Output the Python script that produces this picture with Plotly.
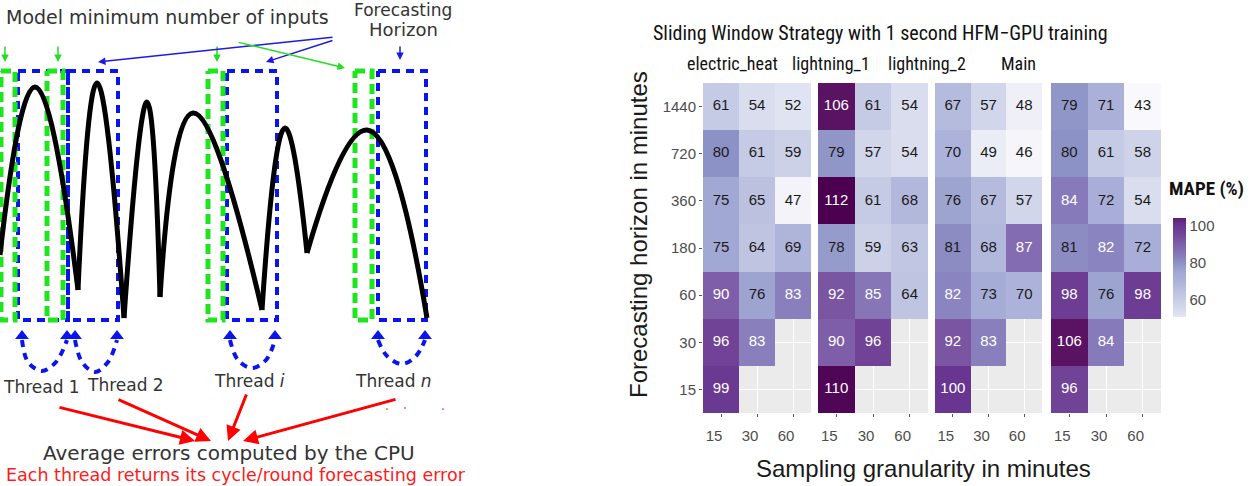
import plotly.graph_objects as go

# ---------------- heatmap data (rows: horizon bottom -> top; cols: granularity) ----------------
granularity = ["15", "30", "60"]
horizons = ["15", "30", "60", "180", "360", "720", "1440"]
facets = ["electric_heat", "lightning_1", "lightning_2", "Main"]

electric_heat = [[99, None, None], [96, 83, None], [90, 76, 83], [75, 64, 69],
                 [75, 65, 47], [80, 61, 59], [61, 54, 52]]
lightning_1 = [[110, None, None], [90, 96, None], [92, 85, 64], [78, 59, 63],
               [112, 61, 68], [79, 57, 54], [106, 61, 54]]
lightning_2 = [[100, None, None], [92, 83, None], [82, 73, 70], [81, 68, 87],
               [76, 67, 57], [70, 49, 46], [67, 57, 48]]
main_values = [[96, None, None], [106, 84, None], [98, 76, 98], [81, 82, 72],
               [84, 72, 54], [80, 61, 58], [79, 71, 43]]
panels = [electric_heat, lightning_1, lightning_2, main_values]
cbar_ticks = [60, 80, 100]

# ---------------- diagram data (pixel-like coordinates) ----------------
arch_x = [[0, 35, 78], [78, 97, 124], [124, 147, 160], [160, 193, 262], [262, 285, 307], [307, 367, 427]]
arch_y = [[255, 87, 290], [290, 83, 318], [318, 102, 297], [297, 113, 310], [310, 128, 253], [253, 130, 318]]
green_boxes = [(1, 15), (47, 63), (208, 223), (355, 372)]
blue_boxes = [(18, 68), (68, 118), (227, 277), (378, 426)]
box_top, box_bottom = 71, 320
loop_x = [[22, 28, 42, 56, 67], [75, 82, 95, 108, 117], [230, 238, 252, 266, 275], [378, 387, 402, 416, 425]]
loop_y = [[340, 362, 371, 362, 340], [340, 362, 372, 362, 340], [340, 360, 368, 360, 340], [340, 356, 364, 356, 340]]
thread_labels = ["Thread 1", "Thread 2", "Thread <i>i</i>", "Thread <i>n</i>"]
thread_x = [41, 125, 249, 393]
thread_y = [387, 385, 381, 381]

# ---------------- colours ----------------
anchors = [(43, "#f9f9fd"), (47, "#f3f3f9"), (52, "#e0e3f1"), (54, "#d9ddee"), (57, "#d2d6eb"),
           (61, "#c6cbe5"), (65, "#bcc1e0"), (69, "#aeb4da"), (75, "#a1a8d3"), (80, "#8d92c6"),
           (83, "#897fbd"), (90, "#7e5ea8"), (96, "#704396"), (100, "#683690"),
           (106, "#5a1263"), (112, "#4b0050")]


def _hex(c):
    return [int(c[i:i + 2], 16) for i in (1, 3, 5)]


def _color_at(v):
    for (v0, c0), (v1, c1) in zip(anchors[:-1], anchors[1:]):
        if v0 <= v <= v1:
            t = (v - v0) / (v1 - v0)
            a, b = _hex(c0), _hex(c1)
            return "rgb(%d,%d,%d)" % tuple(round(a[i] + (b[i] - a[i]) * t) for i in range(3))
    return anchors[-1][1]


def scale_for(lo, hi):
    cs = [[0.0, _color_at(lo)]]
    for v, c in anchors:
        if lo < v < hi:
            cs.append([(v - lo) / (hi - lo), c])
    cs.append([1.0, _color_at(hi)])
    return cs


ZMIN, ZMAX = 43, 112
CB_LO, CB_HI = 51, 104

W, H = 1251, 486
NARROW = "Liberation Sans Narrow, Arial Narrow, Roboto Condensed, Liberation Sans, Arial"
ARIAL = "Liberation Sans, Arial, sans-serif"
DEJAVU = "DejaVu Sans, Verdana, sans-serif"

fig = go.Figure()

panel_px = [(703, 811), (818, 928), (935, 1042), (1051, 1161)]
ydom = [1 - 413 / H, 1 - 83 / H]

for i, (vals, (px0, px1)) in enumerate(zip(panels, panel_px)):
    xa = "x" if i == 0 else "x%d" % (i + 1)
    fig.add_trace(go.Heatmap(
        z=vals, x=granularity, y=horizons, xaxis=xa, yaxis="y",
        colorscale=scale_for(ZMIN, ZMAX), zmin=ZMIN, zmax=ZMAX,
        showscale=False, hoverongaps=False))
    tx, ty, tt, tc = [], [], [], []
    for r, h in enumerate(horizons):
        for c, g in enumerate(granularity):
            v = vals[r][c]
            if v is None:
                continue
            tx.append(g); ty.append(h); tt.append(str(v))
            tc.append("white" if v >= 82 else "#1a1a1a")
    fig.add_trace(go.Scatter(x=tx, y=ty, text=tt, mode="text", xaxis=xa, yaxis="y",
                             textfont=dict(size=15, color=tc, family=ARIAL),
                             hoverinfo="skip", showlegend=False))
    key = "xaxis" if i == 0 else "xaxis%d" % (i + 1)
    fig.layout[key] = dict(
        domain=[px0 / W, px1 / W], anchor="y", type="category",
        categoryorder="array", categoryarray=granularity, range=[-0.5, 2.5],
        showgrid=True, gridcolor="white", gridwidth=1, zeroline=False, showline=False,
        ticks="outside", ticklen=3, tickcolor="#555", tickwidth=1,
        tickfont=dict(size=15, color="#4d4d4d", family=ARIAL), ticklabelshift=-7,
        ticklabelstandoff=6, fixedrange=True)

fig.update_layout(yaxis=dict(
    domain=ydom, anchor="x", type="category", categoryorder="array",
    categoryarray=horizons, range=[-0.5, 6.5],
    showgrid=True, gridcolor="white", gridwidth=1, zeroline=False, showline=False,
    ticks="outside", ticklen=3, tickcolor="#555", tickwidth=1,
    tickfont=dict(size=15, color="#4d4d4d", family=ARIAL), fixedrange=True))

# ---------------- diagram subplot ----------------
fig.update_layout(
    xaxis5=dict(domain=[0, 470 / W], range=[0, 470], visible=False, anchor="y5", fixedrange=True),
    yaxis5=dict(domain=[0, 1], range=[H, 0], visible=False, anchor="x5", fixedrange=True))
fig.add_shape(type="rect", xref="x5 domain", yref="y5 domain", x0=0, x1=1, y0=0, y1=1,
              fillcolor="white", line_width=0, layer="below")


def box_path(boxes):
    xs, ys = [], []
    for x0, x1 in boxes:
        xs += [x0, x1, x1, x0, x0, None]
        ys += [box_top, box_top, box_bottom, box_bottom, box_top, None]
    return xs, ys


bx, by = box_path(blue_boxes)
fig.add_trace(go.Scatter(x=bx, y=by, mode="lines", xaxis="x5", yaxis="y5",
                         line=dict(color="#0a14f0", width=4, dash="8px,6px"),
                         hoverinfo="skip", showlegend=False, cliponaxis=False))
gx, gy = box_path(green_boxes)
fig.add_trace(go.Scatter(x=gx, y=gy, mode="lines", xaxis="x5", yaxis="y5",
                         line=dict(color="#1ee61e", width=5, dash="10px,5px"),
                         hoverinfo="skip", showlegend=False, cliponaxis=False))

for ax_, ay_ in zip(arch_x, arch_y):
    fig.add_trace(go.Scatter(x=ax_, y=ay_, mode="lines", xaxis="x5", yaxis="y5",
                             line=dict(color="black", width=5, shape="spline", smoothing=1.3),
                             hoverinfo="skip", showlegend=False, cliponaxis=False))

for lx, ly in zip(loop_x, loop_y):
    fig.add_trace(go.Scatter(x=lx, y=ly, mode="lines", xaxis="x5", yaxis="y5",
                             line=dict(color="#0a14f0", width=4, dash="7px,6px", shape="spline"),
                             hoverinfo="skip", showlegend=False, cliponaxis=False))
    fig.add_trace(go.Scatter(x=[lx[0], lx[-1]], y=[ly[0] - 4, ly[-1] - 4], mode="markers",
                             xaxis="x5", yaxis="y5",
                             marker=dict(symbol="triangle-up", size=12, color="#0a14f0"),
                             hoverinfo="skip", showlegend=False, cliponaxis=False))

# tiny red dots
fig.add_trace(go.Scatter(x=[387, 405, 443], y=[409, 408, 409], mode="markers", xaxis="x5", yaxis="y5",
                         marker=dict(size=2, color="#ff6060"), hoverinfo="skip", showlegend=False))

ann = []


def arrow(x0, y0, x1, y1, color, width=1.5, head=2, size=1.0):
    ann.append(dict(xref="x5", yref="y5", axref="x5", ayref="y5", x=x1, y=y1, ax=x0, ay=y0,
                    text="", showarrow=True, arrowcolor=color, arrowwidth=width,
                    arrowhead=head, arrowsize=size))


for x in (5, 58, 217):
    arrow(x, 45, x, 62, "#22dd22")
arrow(400, 45, 400, 60, "#1a1ae6")
arrow(334, 37, 98, 62, "#1a1ae6")
arrow(334, 40, 266, 62, "#1a1ae6")
arrow(237, 42, 345, 68, "#22dd22")
arrow(58, 407, 195, 441, "#ff0000", 3, 2, 1.0)
arrow(117, 399, 211, 441, "#ff0000", 3, 2, 1.0)
arrow(247, 393, 228, 441, "#ff0000", 3, 2, 1.0)
arrow(397, 399, 243, 441, "#ff0000", 3, 2, 1.0)


def txt(x, y, s, size, color="#333333", family=DEJAVU, xanchor="center", xref="x5", yref="y5", **kw):
    d = dict(xref=xref, yref=yref, x=x, y=y, text=s, showarrow=False, xanchor=xanchor,
             yanchor="middle", font=dict(size=size, color=color, family=family))
    d.update(kw)
    ann.append(d)


txt(331, 17, "Model minimum number of inputs", 19, xanchor="right")
txt(403, 10, "Forecasting", 17)
txt(403, 29, "Horizon", 18)
for s, x, y in zip(thread_labels, thread_x, thread_y):
    txt(x, y, s, 17)
txt(229, 453, "Average errors computed by the CPU", 20)
txt(236, 475, "Each thread returns its cycle/round forecasting error", 17.5, color="#ff1a1a")

# ---------------- heatmap texts ----------------
txt(880 / W, 1 - 33 / H, "Sliding Window Strategy with 1 second HFM\u2212GPU training", 20,
    color="#111111", family=NARROW, xref="paper", yref="paper")
for s, cx in zip(facets, [732, 831, 927, 1018]):
    txt(cx / W, 1 - 63 / H, s, 18, color="#111111", family=NARROW, xref="paper", yref="paper")
txt(638 / W, 1 - 235 / H, "Forecasting horizon in minutes", 24, color="#1a1a1a", family=ARIAL,
    xref="paper", yref="paper", textangle=-90)
txt(923 / W, 1 - 468 / H, "Sampling granularity in minutes", 24, color="#1a1a1a", family=ARIAL,
    xref="paper", yref="paper")
txt(1206 / W, 1 - 188 / H, "<b>MAPE (%)</b>", 19, color="#111111", family=NARROW,
    xref="paper", yref="paper")

# ---------------- colour bar (dummy off-screen markers) ----------------
fig.add_trace(go.Scatter(
    x=[-100, -100], y=[-100, -100], mode="markers", xaxis="x5", yaxis="y5",
    marker=dict(color=[CB_LO, CB_HI], cmin=CB_LO, cmax=CB_HI, colorscale=scale_for(CB_LO, CB_HI),
                showscale=True, size=1,
                colorbar=dict(x=1173 / W, xanchor="left", xpad=0, ypad=0,
                              y=1 - 267.5 / H, yanchor="middle",
                              thickness=13, thicknessmode="pixels", len=99, lenmode="pixels",
                              outlinewidth=0, tickvals=cbar_ticks, ticks="",
                              tickfont=dict(size=15, color="#4d4d4d", family=ARIAL))),
    hoverinfo="skip", showlegend=False, cliponaxis=True))

fig.update_layout(width=W, height=H, margin=dict(l=0, r=0, t=0, b=0),
                  paper_bgcolor="white", plot_bgcolor="#ebebeb",
                  annotations=ann, showlegend=False)

fig.write_html("out.html")
